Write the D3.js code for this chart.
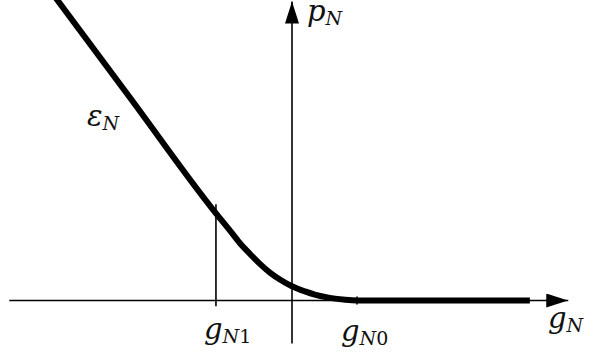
<!DOCTYPE html>
<html>
<head>
<meta charset="utf-8">
<script src="https://cdn.jsdelivr.net/npm/d3@7"></script>
<style>
  html, body { margin: 0; padding: 0; background: #fff; }
  svg { display: block; }
  .lbl { font-family: "DejaVu Serif", "Liberation Serif", serif; font-style: italic; fill: #111; }
  .up { font-style: normal; }
</style>
</head>
<body>
<svg id="chart" width="601" height="356"></svg>
<script>
// Penalty function p_N(g_N): linear for g < g_N1, smooth transition to zero at g_N0, zero beyond.
const gValues = [-3.72, -2.5, -1.17, -0.95, -0.80, -0.65, -0.49, -0.34, -0.18, 0.00, 0.20, 0.35, 0.58, 0.82, 1.00, 3.66];
const pValues = [ 4.77, 3.13,  1.34,  1.07,  0.88,  0.72,  0.56,  0.43,  0.32, 0.22, 0.14, 0.09, 0.04, 0.01, 0.00, 0.00];

// Marked gap values
const gN1 = -1.17;
const gN0 = 1.0;

// Axis extents in data units
const gAxisMin = -4.35, gAxisMax = 4.25;
const pAxisMin = -0.66, pAxisMax = 4.6;

const svg = d3.select("#chart");

const x = d3.scaleLinear().domain([0, 1]).range([292, 357]);
const y = d3.scaleLinear().domain([0, 1]).range([300.5, 235.5]);

// arrowhead marker
const defs = svg.append("defs");
defs.append("marker")
  .attr("id", "arrow")
  .attr("viewBox", "0 0 22 14")
  .attr("refX", 22).attr("refY", 7)
  .attr("markerWidth", 22).attr("markerHeight", 14)
  .attr("markerUnits", "userSpaceOnUse")
  .attr("orient", "auto")
  .append("path").attr("d", "M0,0 L22,7 L0,14 Z").attr("fill", "#000");

// horizontal axis
svg.append("line")
  .attr("x1", x(gAxisMin)).attr("y1", y(0))
  .attr("x2", x(gAxisMax)).attr("y2", y(0))
  .attr("stroke", "#000").attr("stroke-width", 1.6)
  .attr("marker-end", "url(#arrow)");

// vertical axis
svg.append("line")
  .attr("x1", x(0)).attr("y1", y(pAxisMin))
  .attr("x2", x(0)).attr("y2", y(pAxisMax))
  .attr("stroke", "#000").attr("stroke-width", 1.6)
  .attr("marker-end", "url(#arrow)");

// marker line at g_N1
svg.append("line")
  .attr("x1", x(gN1)).attr("y1", y(-0.09))
  .attr("x2", x(gN1)).attr("y2", y(1.48))
  .attr("stroke", "#000").attr("stroke-width", 1.6);

// small tick at g_N0
svg.append("line")
  .attr("x1", x(gN0)).attr("y1", y(-0.06))
  .attr("x2", x(gN0)).attr("y2", y(0.06))
  .attr("stroke", "#000").attr("stroke-width", 1.6);

// penalty curve
const pts = gValues.map((g, i) => [g, pValues[i]]);
const line = d3.line()
  .x(d => x(d[0]))
  .y(d => y(d[1]))
  .curve(d3.curveMonotoneX);

svg.append("path")
  .datum(pts)
  .attr("d", line)
  .attr("fill", "none")
  .attr("stroke", "#000")
  .attr("stroke-width", 6)
  .attr("stroke-linecap", "butt");

// labels: [symbol, subscript letter, subscript digit, x, baseline]
const labels = [
  ["p", "N", "", 307, 21],
  ["g", "N", "", 548, 328],
  ["\u03B5", "N", "", 87, 126],
  ["g", "N", "1", 204, 339],
  ["g", "N", "0", 341, 341]
];

labels.forEach(([m, s, d, lx, ly]) => {
  const t = svg.append("text").attr("class", "lbl")
    .attr("x", lx).attr("y", ly).style("font-size", "29px");
  t.append("tspan").text(m);
  t.append("tspan").attr("dy", 4).style("font-size", "19px").text(s);
  if (d) t.append("tspan").attr("class", "up").style("font-size", "19px").text(d);
});
</script>
</body>
</html>
